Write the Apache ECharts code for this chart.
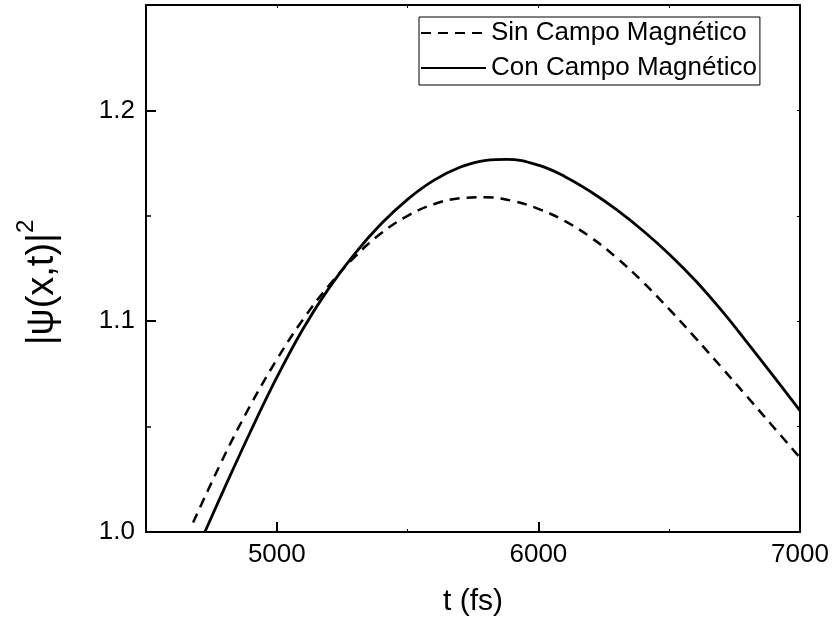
<!DOCTYPE html>
<html>
<head>
<meta charset="utf-8">
<script src="https://cdn.jsdelivr.net/npm/echarts@6/dist/echarts.min.js"></script>
<style>
html,body{margin:0;padding:0;background:#fff;}
#c{width:834px;height:625px;}
</style>
</head>
<body>
<div id="c"></div>
<script>
// Series names
const seriesNames = ['Sin Campo Magnético', 'Con Campo Magnético'];

// Sin Campo Magnético (dashed)
const tSin = [4680, 4800, 4900, 5000, 5100, 5200, 5300, 5400, 5500, 5600, 5700, 5800, 5900, 6000, 6100, 6200, 6300, 6400, 6500, 6600, 6700, 6800, 6900, 7000];
const vSin = [1.0045, 1.0363, 1.0603, 1.0818, 1.1008, 1.1170, 1.1308, 1.1418, 1.1500, 1.1555, 1.1583, 1.1588, 1.1571, 1.1533, 1.1476, 1.1398, 1.1300, 1.1185, 1.1057, 1.0921, 1.0781, 1.0639, 1.0496, 1.0352];

// Con Campo Magnético (solid)
const tCon = [4725, 4800, 4900, 5000, 5100, 5200, 5300, 5400, 5500, 5600, 5700, 5800, 5880, 6000, 6100, 6200, 6300, 6400, 6500, 6600, 6700, 6800, 6900, 7000];
const vCon = [1.0000, 1.0208, 1.0478, 1.0733, 1.0963, 1.1158, 1.1323, 1.1463, 1.1578, 1.1668, 1.1730, 1.1763, 1.1768, 1.1740, 1.1687, 1.1614, 1.1528, 1.1429, 1.1318, 1.1193, 1.1051, 1.0896, 1.0737, 1.0576];

// Tick labels
const xTicks = [5000, 6000, 7000];
const xMinorTicks = [5500, 6500];
const yTicks = [1.0, 1.1, 1.2];
const yMinorTicks = [1.05, 1.15];

const FONT = 'Liberation Sans, Arial, Helvetica, sans-serif';
const dataSin = tSin.map((t, i) => [t, vSin[i]]);
const dataCon = tCon.map((t, i) => [t, vCon[i]]);

const chart = echarts.init(document.getElementById('c'));
const axLine = {show: true, lineStyle: {color: '#000', width: 2}};
chart.setOption({
  animation: false,
  backgroundColor: '#fff',
  grid: {left: 146, right: 34, top: 5, bottom: 93, containLabel: false},
  legend: {
    left: 419, top: 17, orient: 'vertical',
    data: seriesNames,
    itemWidth: 65, itemHeight: 14, itemGap: 5,
    padding: [1, 3, 2, 1],
    borderColor: '#000', borderWidth: 1, borderRadius: 0,
    itemStyle: {opacity: 0, borderWidth: 0},
    textStyle: {fontSize: 26, color: '#000', fontFamily: FONT, lineHeight: 30}
  },
  xAxis: [
    {
      type: 'value', min: 4500, max: 7000, interval: 500, position: 'bottom',
      axisLine: axLine,
      axisTick: {show: true, inside: true, length: 10, customValues: xTicks, lineStyle: {color: '#000', width: 2}},
      axisLabel: {customValues: xTicks, fontSize: 26, color: '#000', fontFamily: FONT, margin: 10,
        formatter: v => String(v)},
      splitLine: {show: false},
      name: 't (fs)', nameLocation: 'middle', nameGap: 55,
      nameTextStyle: {fontSize: 30, color: '#000', fontFamily: FONT}
    },
    {
      type: 'value', min: 4500, max: 7000, interval: 500, position: 'top',
      axisLine: axLine,
      axisTick: {show: true, inside: true, length: 3, customValues: xTicks.concat(xMinorTicks), lineStyle: {color: '#000', width: 1}},
      axisLabel: {show: false}, splitLine: {show: false}
    },
    {
      type: 'value', min: 4500, max: 7000, interval: 500, position: 'bottom', offset: 0,
      axisLine: {show: false},
      axisTick: {show: true, inside: true, length: 3, customValues: xMinorTicks, lineStyle: {color: '#000', width: 1}},
      axisLabel: {show: false}, splitLine: {show: false}
    }
  ],
  yAxis: [
    {
      type: 'value', min: 1.0, max: 1.25, interval: 0.05, position: 'left',
      axisLine: axLine,
      axisTick: {show: true, inside: true, length: 10, customValues: yTicks, lineStyle: {color: '#000', width: 2}},
      axisLabel: {customValues: yTicks, fontSize: 26, color: '#000', fontFamily: FONT, margin: 11,
        formatter: v => Number(v).toFixed(1)},
      splitLine: {show: false},
      name: '{a||ψ(x,t)|}{s|2}', nameLocation: 'middle', nameGap: 84, nameRotate: 90,
      nameTextStyle: {
        color: '#000', fontFamily: FONT, padding: [0, 28, 0, 0],
        rich: {
          a: {fontSize: 38, color: '#000', fontFamily: FONT, lineHeight: 48, verticalAlign: 'bottom'},
          s: {fontSize: 24, color: '#000', fontFamily: FONT, lineHeight: 48, verticalAlign: 'top'}
        }
      }
    },
    {
      type: 'value', min: 1.0, max: 1.25, interval: 0.05, position: 'right',
      axisLine: axLine,
      axisTick: {show: true, inside: true, length: 3, customValues: yTicks.concat(yMinorTicks), lineStyle: {color: '#000', width: 1}},
      axisLabel: {show: false}, splitLine: {show: false}
    },
    {
      type: 'value', min: 1.0, max: 1.25, interval: 0.05, position: 'left', offset: 0,
      axisLine: {show: false},
      axisTick: {show: true, inside: true, length: 5, customValues: yMinorTicks, lineStyle: {color: '#000', width: 1.5}},
      axisLabel: {show: false}, splitLine: {show: false}
    }
  ],
  series: [
    {
      name: seriesNames[0], type: 'line', xAxisIndex: 0, yAxisIndex: 0,
      data: dataSin, smooth: 0.4, symbol: 'none', clip: true,
      lineStyle: {color: '#000', width: 2.5, type: [10, 7]},
      itemStyle: {color: '#000'}
    },
    {
      name: seriesNames[1], type: 'line', xAxisIndex: 0, yAxisIndex: 0,
      data: dataCon, smooth: 0.4, symbol: 'none', clip: true,
      lineStyle: {color: '#000', width: 2.8, type: 'solid'},
      itemStyle: {color: '#000'}
    }
  ]
});
</script>
</body>
</html>
